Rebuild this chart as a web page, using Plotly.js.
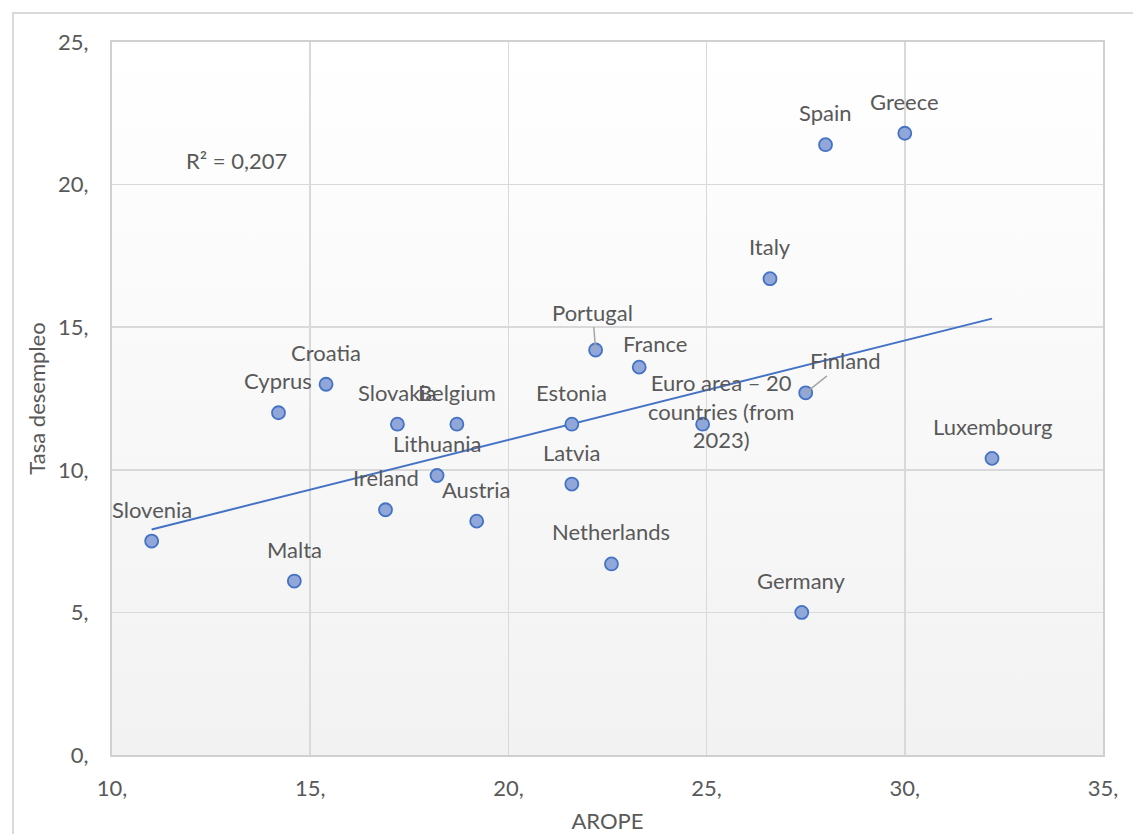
<!DOCTYPE html>
<html>
<head>
<meta charset="utf-8">
<script src="https://cdn.plot.ly/plotly-3.0.1.min.js"></script>
<style>
  html, body { margin: 0; padding: 0; background: #ffffff; }
  #wrap { position: relative; width: 1133px; height: 834px; overflow: hidden; }
  #frame { position: absolute; left: 12px; top: 12px; width: 1200px; height: 900px;
           border-left: 2px solid #D9D9D9; border-top: 2px solid #D9D9D9; box-sizing: border-box; }
  #bg { position: absolute; left: 112px; top: 42px; width: 991px; height: 713px;
        background: linear-gradient(to bottom, #FFFFFF 0%, #F2F2F2 100%); }
  #chart { position: absolute; left: 0; top: 0; width: 1133px; height: 834px; }
</style>
</head>
<body>
<div id="wrap">
  <div id="frame"></div>
  <div id="bg"></div>
  <div id="chart"></div>
</div>
<script>
// ---- data ----
const countries = ["Slovenia","Malta","Cyprus","Croatia","Ireland","Slovakia","Belgium","Lithuania",
  "Austria","Estonia","Latvia","Portugal","Netherlands","France","Euro area – 20<br>countries (from<br>2023)",
  "Italy","Germany","Finland","Spain","Greece","Luxembourg"];
const arope = [11.0,14.6,14.2,15.4,16.9,17.2,18.7,18.2,19.2,21.6,21.6,22.2,22.6,23.3,24.9,26.6,27.4,27.5,28.0,30.0,32.2];
const unemployment = [7.5,6.1,12.0,13.0,8.6,11.6,11.6,9.8,8.2,11.6,9.5,14.2,6.7,13.6,11.6,16.7,5.0,12.7,21.4,21.8,10.4];
const xTicks = [10,15,20,25,30,35];
const yTicks = [0,5,10,15,20,25];
const r2Text = "R² = 0,207";

// ---- label placement (pixel offsets; style only) ----
const labelPlacement = {
  "Portugal": {arrow: true, ax: -3, ay: -38},
  "Finland": {arrow: true, ax: 40, ay: -32},
  "France": {dx: 16, dy: 24},
  "Euro area – 20<br>countries (from<br>2023)": {dx: 18, dy: 13}
};

// ---- linear trend (least squares) ----
const n = arope.length;
const mx = arope.reduce((a,b)=>a+b,0)/n;
const my = unemployment.reduce((a,b)=>a+b,0)/n;
let sxy = 0, sxx = 0;
for (let i=0;i<n;i++){ sxy += (arope[i]-mx)*(unemployment[i]-my); sxx += (arope[i]-mx)**2; }
const slope = sxy/sxx, intercept = my - slope*mx;
const xMin = Math.min(...arope), xMax = Math.max(...arope);

const font = "Lato, 'Open Sans', sans-serif";
const textColor = "#595959";
const fs = 22;

const traces = [
  {
    x: [xMin, xMax], y: [intercept+slope*xMin, intercept+slope*xMax],
    mode: "lines", line: {color: "#4472C4", width: 2}, hoverinfo: "skip", showlegend: false
  },
  {
    x: arope, y: unemployment, mode: "markers", showlegend: false,
    marker: {size: 13, color: "#91A7D9", line: {color: "#4472C4", width: 1.8}}
  }
];

const annotations = countries.map((c,i) => {
  const p = labelPlacement[c] || {};
  const base = {x: arope[i], y: unemployment[i], xref: "x", yref: "y", text: c,
    font: {family: font, size: fs, color: textColor}};
  if (p.arrow) {
    return Object.assign(base, {showarrow: true, ax: p.ax, ay: p.ay, arrowhead: 0,
      arrowwidth: 1.5, arrowcolor: "#A6A6A6", standoff: 0});
  }
  return Object.assign(base, {showarrow: false, xshift: p.dx || 0, yshift: (p.dy !== undefined ? p.dy : 32)});
});
annotations.push({x: 13.13, y: 20.83, xref: "x", yref: "y", text: r2Text, showarrow: false,
  font: {family: font, size: fs, color: textColor}});

const layout = {
  width: 1133, height: 834,
  margin: {l: 112, r: 30, t: 42, b: 79},
  paper_bgcolor: "rgba(0,0,0,0)", plot_bgcolor: "rgba(0,0,0,0)",
  font: {family: font, color: textColor, size: fs},
  xaxis: {
    range: [10, 35], tickvals: xTicks, ticktext: xTicks.map(v => v + ","),
    showgrid: true, gridcolor: "#D9D9D9", gridwidth: 1.5,
    showline: true, linecolor: "#D0D0D0", linewidth: 2, mirror: true,
    zeroline: false, ticks: "", ticklen: 0, ticklabelstandoff: 13,
    tickfont: {family: font, size: fs, color: textColor},
    title: {text: "AROPE", font: {family: font, size: fs, color: textColor}, standoff: 26}
  },
  yaxis: {
    range: [0, 25], tickvals: yTicks, ticktext: yTicks.map(v => v + ","),
    showgrid: true, gridcolor: "#D9D9D9", gridwidth: 1.5,
    showline: true, linecolor: "#D0D0D0", linewidth: 2, mirror: true,
    zeroline: false, ticks: "", ticklen: 0, ticklabelstandoff: 17,
    tickfont: {family: font, size: fs, color: textColor},
    title: {text: "Tasa desempleo", font: {family: font, size: fs, color: textColor}, standoff: 6}
  },
  annotations: annotations
};

Plotly.newPlot("chart", traces, layout, {staticPlot: true, displayModeBar: false});
</script>
</body>
</html>
